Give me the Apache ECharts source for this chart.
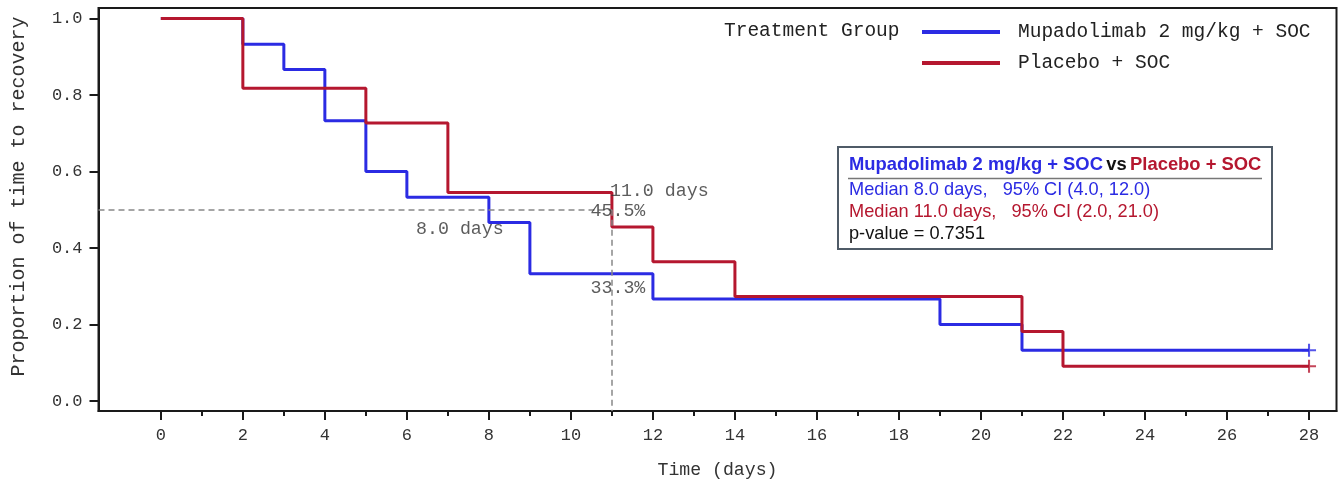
<!DOCTYPE html>
<html>
<head>
<meta charset="utf-8">
<script src="https://cdn.jsdelivr.net/npm/echarts@6/dist/echarts.min.js"></script>
<style>
html,body{margin:0;padding:0;background:#fff;}
#chart{width:1341px;height:485px;}
</style>
</head>
<body>
<div id="chart"></div>
<script>
// ---- data ----
const seriesNames = ['Mupadolimab 2 mg/kg + SOC', 'Placebo + SOC'];
const timesMupa = [0, 2, 3, 4, 5, 6, 8, 9, 12, 19, 21, 28];
const survMupa  = [1.0, 0.933, 0.867, 0.733, 0.600, 0.533, 0.467, 0.333, 0.267, 0.200, 0.133, 0.133];
const timesPlac = [0, 2, 5, 7, 11, 12, 14, 21, 22, 28];
const survPlac  = [1.0, 0.818, 0.727, 0.545, 0.455, 0.364, 0.273, 0.182, 0.091, 0.091];
const censorMupa = [28];
const censorPlac = [28];
const xMajorTicks = [0, 2, 4, 6, 8, 10, 12, 14, 16, 18, 20, 22, 24, 26, 28];
const xMinorTicks = [1, 3, 5, 7, 9, 11, 13, 15, 17, 19, 21, 23, 25, 27];
const yTicks = [0.0, 0.2, 0.4, 0.6, 0.8, 1.0];
const medianMupa = 8.0;
const medianPlac = 11.0;
const survPlacAtMedian = 0.455;
const survMupaAtMedianPlac = 0.333;
const survMupaAtMedianMupa = 0.467;
const survPlacAtMedianPlacPrev = 0.545;
const halfLevel = 0.5;
const boxTitle = ['Mupadolimab 2 mg/kg + SOC', 'vs', 'Placebo + SOC'];
const boxLine1 = 'Median 8.0 days,   95% CI (4.0, 12.0)';
const boxLine2 = 'Median 11.0 days,   95% CI (2.0, 21.0)';
const boxLine3 = 'p-value = 0.7351';
const legendTitle = 'Treatment Group';
const xTitle = 'Time (days)';
const yTitle = 'Proportion of time to recovery';

// ---- styling / layout ----
const BLUE = '#2b2be3';
const RED = '#b5172f';
const MONO = '"Liberation Mono", "Courier New", monospace';
const SANS = '"Liberation Sans", Arial, sans-serif';
const X_MIN = -1.52, X_MAX = 28.67, Y_MIN = -0.026, Y_MAX = 1.0275;

function pairs(xs, ys) { return xs.map((x, i) => [x, ys[i]]); }
function censorPts(ct, xs, ys) {
  return ct.map(t => { let v = ys[0]; xs.forEach((x, i) => { if (x <= t) v = ys[i]; }); return [t, v]; });
}
const plusPath = 'path://M0,6L14,6M7,0L7,12';

const chart = echarts.init(document.getElementById('chart'), null, {renderer: 'canvas'});

const axisCommon = {
  type: 'value',
  min: X_MIN, max: X_MAX,
  splitLine: {show: false},
};

const option = {
  animation: false,
  backgroundColor: '#fff',
  grid: {left: 98.5, top: 8, right: 4.5, bottom: 74, show: true, borderColor: '#1a1a1a', borderWidth: 2, containLabel: false},
  legend: {
    data: seriesNames,
    orient: 'vertical',
    left: 922, top: 22, padding: 0,
    itemWidth: 78, itemHeight: 4, itemGap: 11,
    icon: 'rect',
    selectedMode: false,
    textStyle: {fontFamily: MONO, fontSize: 19.5, color: '#222', padding: [0, 0, 0, 13]}
  },
  xAxis: [
    Object.assign({}, axisCommon, {
      name: xTitle, nameLocation: 'middle', nameGap: 50,
      nameTextStyle: {fontFamily: MONO, fontSize: 18.2, color: '#333'},
      axisLine: {show: true, onZero: false, lineStyle: {color: '#1a1a1a', width: 2}},
      axisTick: {show: true, customValues: xMajorTicks, length: 9, lineStyle: {color: '#1a1a1a', width: 2}},
      axisLabel: {show: true, customValues: xMajorTicks, margin: 16, fontFamily: MONO, fontSize: 17, color: '#333'}
    }),
    Object.assign({}, axisCommon, {
      position: 'bottom',
      axisLine: {show: false, onZero: false},
      axisTick: {show: true, customValues: xMinorTicks, length: 5, lineStyle: {color: '#1a1a1a', width: 2}},
      axisLabel: {show: false}
    })
  ],
  yAxis: {
    type: 'value', min: Y_MIN, max: Y_MAX,
    name: yTitle, nameLocation: 'middle', nameGap: 70,
    nameTextStyle: {fontFamily: MONO, fontSize: 20, color: '#333', padding: [0, 0, 0, 26]},
    splitLine: {show: false},
    axisLine: {show: true, onZero: false, lineStyle: {color: '#1a1a1a', width: 2}},
    axisTick: {show: true, customValues: yTicks, length: 9, lineStyle: {color: '#1a1a1a', width: 2}},
    axisLabel: {show: true, customValues: yTicks, margin: 16, fontFamily: MONO, fontSize: 17, color: '#333',
      formatter: v => v.toFixed(1)}
  },
  series: [
    {
      name: 'refLines', type: 'line', data: [], silent: true,
      markLine: {
        silent: true, symbol: 'none', animation: false,
        lineStyle: {color: '#888', type: [6, 4], width: 1.5},
        label: {show: false},
        data: [
          [{coord: [X_MIN, halfLevel]}, {coord: [medianPlac, halfLevel]}],
          [{coord: [medianPlac, halfLevel]}, {coord: [medianPlac, Y_MIN]}]
        ]
      }
    },
    {
      name: seriesNames[0], type: 'line', step: 'end', showSymbol: false, symbol: 'none',
      data: pairs(timesMupa, survMupa),
      color: BLUE, lineStyle: {color: BLUE, width: 3}, z: 3
    },
    {
      name: seriesNames[1], type: 'line', step: 'end', showSymbol: false, symbol: 'none',
      data: pairs(timesPlac, survPlac),
      color: RED, lineStyle: {color: RED, width: 3}, z: 4
    },
    {
      name: 'censorMupa', type: 'scatter', symbol: plusPath, symbolSize: [14, 13],
      data: censorPts(censorMupa, timesMupa, survMupa),
      itemStyle: {color: 'none', borderColor: BLUE, borderWidth: 2}, z: 5, silent: true
    },
    {
      name: 'censorPlac', type: 'scatter', symbol: plusPath, symbolSize: [14, 13],
      data: censorPts(censorPlac, timesPlac, survPlac),
      itemStyle: {color: 'none', borderColor: RED, borderWidth: 2}, z: 5, silent: true
    },
    {
      name: 'annotations', type: 'scatter', symbolSize: 0, silent: true, z: 6,
      label: {show: true, fontFamily: MONO, fontSize: 18.3, color: '#333', position: 'inside'},
      data: [
        {value: [medianPlac, survPlacAtMedianPlacPrev], label: {formatter: medianPlac.toFixed(1) + ' days', align: 'left', offset: [-2, -1]}},
        {value: [medianPlac, halfLevel], label: {formatter: (survPlacAtMedian * 100).toFixed(1) + '%', offset: [6, 1]}},
        {value: [medianPlac, survMupaAtMedianPlac], label: {formatter: (survMupaAtMedianPlac * 100).toFixed(1) + '%', offset: [6, 14]}},
        {value: [medianMupa, survMupaAtMedianMupa], label: {formatter: medianMupa.toFixed(1) + ' days', offset: [-29, 7]}}
      ]
    }
  ],
  graphic: [
    {type: 'text', x: 724, y: 31, style: {text: legendTitle, font: '19.5px ' + MONO, fill: '#222', verticalAlign: 'middle'}},
    {type: 'rect', shape: {x: 838, y: 147, width: 434, height: 102}, style: {fill: '#fff', stroke: '#4f5b67', lineWidth: 2}, z: 10},
    {type: 'text', x: 849, y: 164.5, z: 11, style: {
      text: '{b|' + boxTitle[0] + '} {k|' + boxTitle[1] + '} {r|' + boxTitle[2] + '}',
      verticalAlign: 'middle',
      rich: {
        b: {fontFamily: SANS, fontWeight: 'bold', fontSize: 18.4, fill: BLUE},
        k: {fontFamily: SANS, fontWeight: 'bold', fontSize: 18.4, fill: '#111'},
        r: {fontFamily: SANS, fontWeight: 'bold', fontSize: 18.4, fill: RED}
      }
    }},
    {type: 'line', shape: {x1: 848, y1: 178.5, x2: 1262, y2: 178.5}, style: {stroke: '#777', lineWidth: 1.5}, z: 11},
    {type: 'text', x: 849, y: 190, z: 11, style: {text: boxLine1, font: '18.2px ' + SANS, fill: BLUE, verticalAlign: 'middle'}},
    {type: 'text', x: 849, y: 212, z: 11, style: {text: boxLine2, font: '18.2px ' + SANS, fill: RED, verticalAlign: 'middle'}},
    {type: 'text', x: 849, y: 234, z: 11, style: {text: boxLine3, font: '18.2px ' + SANS, fill: '#111', verticalAlign: 'middle'}}
  ]
};
chart.setOption(option);
</script>
</body>
</html>
